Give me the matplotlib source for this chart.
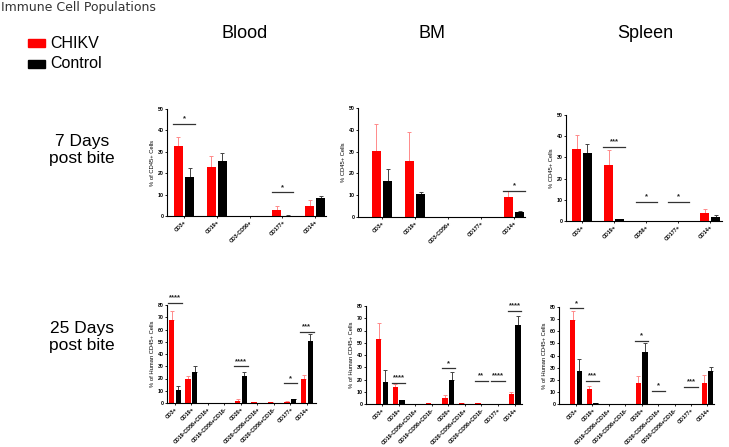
import matplotlib
matplotlib.use("Agg")
import matplotlib.pyplot as plt
import numpy as np

plt.rcParams['font.family'] = ['Liberation Sans', 'DejaVu Sans']

W, H = 729, 447

# ---------------- data ----------------
top_cats_bl = ["CD3+", "CD19+", "CD3-CD56+", "CD177+", "CD14+"]
top_cats_bm = ["CD3+", "CD19+", "CD3-CD56+", "CD177+", "CD14+"]
top_cats_sp = ["CD3+", "CD19+", "CD56+", "CD177+", "CD14+"]
bot_cats = ["CD3+", "CD19+", "CD19-CD56+CD16+", "CD19-CD56+CD16-", "CD20+",
            "CD20-CD56+CD16+", "CD20-CD56+CD16-", "CD177+", "CD14+"]

# 7 days
bl7_chikv = [32.5, 23.0, 0.0, 3.0, 4.8]
bl7_chikv_err = [4.5, 5.0, 0.0, 1.5, 2.5]
bl7_ctrl = [18.3, 25.8, 0.0, 0.2, 8.2]
bl7_ctrl_err = [3.9, 3.7, 0.0, 0.1, 1.3]
bl7_sig = [(0, 43, "*"), (3, 11, "*")]

bm7_chikv = [30.5, 25.8, 0.0, 0.0, 9.0]
bm7_chikv_err = [12.0, 13.2, 0.0, 0.0, 3.0]
bm7_ctrl = [16.5, 10.5, 0.0, 0.0, 2.2]
bm7_ctrl_err = [5.7, 1.0, 0.0, 0.0, 0.4]
bm7_sig = [(4, 12, "*")]

sp7_chikv = [34.0, 26.5, 0.2, 0.2, 4.0]
sp7_chikv_err = [6.5, 7.0, 0.0, 0.0, 1.5]
sp7_ctrl = [32.2, 0.8, 0.0, 0.0, 2.0]
sp7_ctrl_err = [4.3, 0.2, 0.0, 0.0, 0.8]
sp7_sig = [(1, 35, "***"), (2, 9, "*"), (3, 9, "*")]

# 25 days
bl25_chikv = [67.5, 19.5, 0.0, 0.0, 1.8, 1.0, 1.0, 1.2, 20.0]
bl25_chikv_err = [7.5, 2.5, 0.0, 0.0, 1.2, 0.0, 0.0, 0.3, 3.0]
bl25_ctrl = [10.5, 25.0, 0.0, 0.3, 22.0, 0.0, 0.0, 3.0, 51.0]
bl25_ctrl_err = [3.5, 5.0, 0.0, 0.0, 3.0, 0.0, 0.0, 0.5, 5.5]
bl25_sig = [(0, 82, "****"), (4, 30, "****"), (7, 16, "*"), (8, 58, "***")]

bm25_chikv = [53.0, 14.0, 0.3, 0.5, 5.0, 1.0, 1.0, 0.2, 8.5]
bm25_chikv_err = [13.0, 2.0, 0.0, 0.0, 2.0, 0.0, 0.0, 0.0, 1.5]
bm25_ctrl = [18.0, 3.0, 0.0, 0.0, 20.0, 0.0, 0.0, 0.2, 64.5]
bm25_ctrl_err = [10.0, 0.5, 0.0, 0.0, 6.0, 0.0, 0.0, 0.0, 7.5]
bm25_sig = [(1, 17, "****"), (4, 29, "*"), (6, 19, "**"), (7, 19, "****"), (8, 76, "****")]

sp25_chikv = [69.0, 12.0, 0.0, 0.0, 17.5, 0.2, 0.2, 0.2, 17.5]
sp25_chikv_err = [8.0, 2.5, 0.0, 0.0, 6.0, 0.0, 0.0, 0.0, 6.5]
sp25_ctrl = [27.5, 1.0, 0.0, 0.0, 42.5, 0.0, 0.0, 0.3, 27.0]
sp25_ctrl_err = [10.0, 0.2, 0.0, 0.0, 7.5, 0.0, 0.0, 0.0, 3.5]
sp25_sig = [(0, 79, "*"), (1, 19, "***"), (4, 52, "*"), (5, 11, "*"), (7, 14, "***")]

RED = "#ff0000"
ERR_RED = "#ff8a8a"


def add_ax(l, r, t, b):
    return fig.add_axes([l / W, 1 - b / H, (r - l) / W, (b - t) / H])


def panel(ax, cats, chikv, chikv_err, ctrl, ctrl_err, sig, ymax, ylabel, xlim, bw, off, lw):
    x = np.arange(len(cats))
    ax.bar(x - off, chikv, bw, color=RED, zorder=2)
    ax.bar(x + off, ctrl, bw, color="black", zorder=2)
    ax.errorbar(x - off, chikv, yerr=[np.zeros(len(x)), chikv_err], fmt="none",
                ecolor=ERR_RED, elinewidth=0.7, capsize=1.6, capthick=0.7, zorder=1)
    ax.errorbar(x + off, ctrl, yerr=[np.zeros(len(x)), ctrl_err], fmt="none",
                ecolor="#444444", elinewidth=0.7, capsize=1.6, capthick=0.7, zorder=1)
    for gi, yv, lab in sig:
        ax.plot([gi - lw, gi + lw], [yv, yv], color="#333333", lw=0.9, clip_on=False)
        ax.text(gi, yv + ymax * 0.015, lab, ha="center", va="bottom", fontsize=5.5,
                fontweight="bold", color="#222222")
    ax.set_ylim(0, ymax)
    ax.set_yticks(np.arange(0, ymax + 1, 10))
    ax.set_xlim(*xlim)
    ax.set_xticks(x)
    ax.set_xticklabels(cats, rotation=45, ha="right", rotation_mode="anchor")
    ax.tick_params(axis="both", labelsize=3.8, length=1.5, width=0.6, pad=1)
    for lab in ax.get_xticklabels() + ax.get_yticklabels():
        lab.set_fontweight("bold")
    ax.spines["top"].set_visible(False)
    ax.spines["right"].set_visible(False)
    ax.spines["left"].set_linewidth(0.8)
    ax.spines["bottom"].set_linewidth(0.8)
    ax.set_ylabel(ylabel, fontsize=4.2, labelpad=1.5)
    ax.patch.set_alpha(0)


fig = plt.figure(figsize=(W / 100, H / 100), dpi=100)

# top row
ax = add_ax(167, 326, 109, 216)
panel(ax, top_cats_bl, bl7_chikv, bl7_chikv_err, bl7_ctrl, bl7_ctrl_err, bl7_sig,
      50, "% of CD45+ Cells", (-0.52, 4.33), 0.27, 0.17, 0.33)
ax = add_ax(358, 525, 108, 217)
panel(ax, top_cats_bm, bm7_chikv, bm7_chikv_err, bm7_ctrl, bm7_ctrl_err, bm7_sig,
      50, "% CD45+ Cells", (-0.73, 4.33), 0.27, 0.17, 0.33)
ax = add_ax(566, 722, 115, 221)
panel(ax, top_cats_sp, sp7_chikv, sp7_chikv_err, sp7_ctrl, sp7_ctrl_err, sp7_sig,
      50, "% CD45+ Cells", (-0.5, 4.37), 0.27, 0.17, 0.33)

# bottom row
ax = add_ax(167, 316, 305, 403)
panel(ax, bot_cats, bl25_chikv, bl25_chikv_err, bl25_ctrl, bl25_ctrl_err, bl25_sig,
      80, "% of Human CD45+ Cells", (-0.48, 8.55), 0.32, 0.2, 0.4)
ax = add_ax(366, 522, 306, 404)
panel(ax, bot_cats, bm25_chikv, bm25_chikv_err, bm25_ctrl, bm25_ctrl_err, bm25_sig,
      80, "% of Human CD45+ Cells", (-0.97, 8.45), 0.32, 0.2, 0.4)
ax = add_ax(559, 714, 307, 404)
panel(ax, bot_cats, sp25_chikv, sp25_chikv_err, sp25_ctrl, sp25_ctrl_err, sp25_sig,
      80, "% of Human CD45+ Cells", (-1.04, 8.4), 0.32, 0.2, 0.4)

# text
fig.text(1 / W, 1 - 8 / H, "Immune Cell Populations", fontsize=9, ha="left", va="center",
         color="#333333", family="DejaVu Sans")
for xp, t in [(245, "Blood"), (432, "BM"), (645, "Spleen")]:
    fig.text(xp / W, 1 - 34 / H, t, fontsize=13, ha="center", va="center")
fig.text(82 / W, 1 - 150 / H, "7 Days\npost bite", fontsize=12.5, ha="center", va="center",
         linespacing=1.2)
fig.text(82 / W, 1 - 337 / H, "25 Days\npost bite", fontsize=12.5, ha="center", va="center",
         linespacing=1.2)

# legend
for yp, col, lab in [(43, RED, "CHIKV"), (64, "black", "Control")]:
    fig.patches.append(plt.Rectangle((28 / W, 1 - (yp + 3.5) / H), 17 / W, 7 / H,
                                     color=col, transform=fig.transFigure, figure=fig))
    fig.text(50 / W, 1 - yp / H, lab, fontsize=11.5, ha="left", va="center")

fig.savefig("out.png", dpi=100)
